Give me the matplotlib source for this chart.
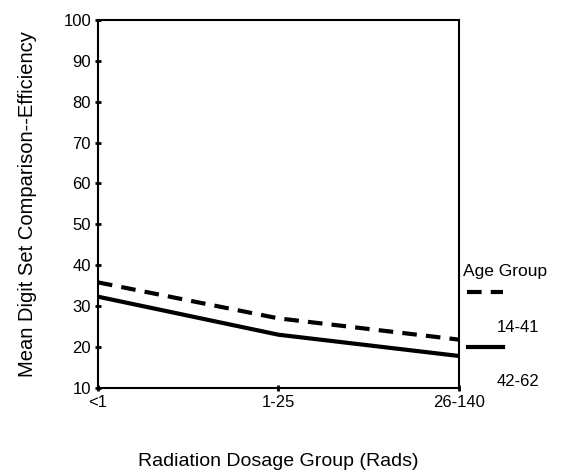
import matplotlib
matplotlib.use("Agg")
import matplotlib.pyplot as plt
from matplotlib.lines import Line2D

# --- data ---
dose_groups = ["<1", "1-25", "26-140"]
age_young = [35.8, 27.0, 21.8]   # 14-41
age_old = [32.3, 23.0, 17.8]     # 42-62
y_ticks = [10, 20, 30, 40, 50, 60, 70, 80, 90, 100]

plt.rcParams['font.family'] = ['Liberation Sans', 'DejaVu Sans']

fig = plt.figure(figsize=(5.63, 4.73), dpi=100)
ax = fig.add_axes([0.174, 0.180, 0.641, 0.778])

x = range(len(dose_groups))
ax.plot(x, age_young, color='black', lw=3, ls=(0, (3.5, 2.2)))
ax.plot(x, age_old, color='black', lw=3)

ax.set_xlim(0, len(dose_groups) - 1)
ax.set_ylim(10, 100)
ax.set_yticks(y_ticks)
ax.set_xticks(list(x))
ax.set_xticklabels(dose_groups)
ax.tick_params(direction='inout', length=4, width=2, labelsize=12, pad=3)
for s in ax.spines.values():
    s.set_linewidth(1.5)

ax.set_ylabel("Mean Digit Set Comparison--Efficiency", fontsize=14.5, labelpad=19)
ax.set_xlabel("Radiation Dosage Group (Rads)", fontsize=14, labelpad=31)

# legend outside on the right
fig.text(0.823, 0.427, "Age Group", fontsize=12.5, va='center')
fig.add_artist(Line2D([0.830, 0.893], [0.383, 0.383], color='black', lw=3,
                      ls=(0, (3.5, 2.2)), transform=fig.transFigure))
fig.text(0.92, 0.307, "14-41", fontsize=12, va='center', ha='center')
fig.add_artist(Line2D([0.832, 0.893], [0.266, 0.266], color='black', lw=3,
                      transform=fig.transFigure))
fig.text(0.92, 0.193, "42-62", fontsize=12, va='center', ha='center')

fig.savefig("out.png", dpi=100)
